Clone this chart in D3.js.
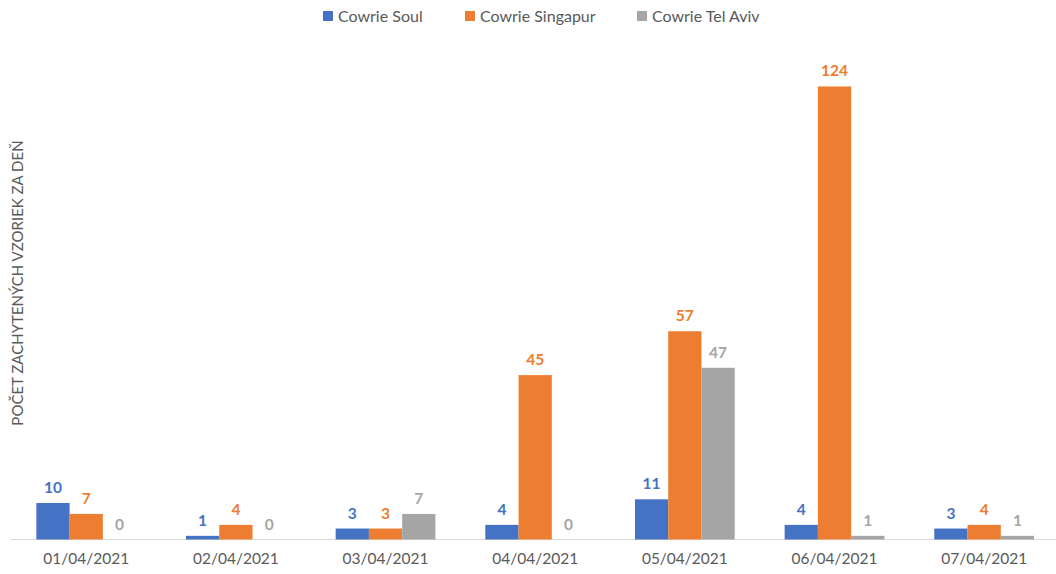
<!DOCTYPE html>
<html><head><meta charset="utf-8">
<script src="https://cdn.jsdelivr.net/npm/d3@7"></script>
<style>body{margin:0;background:#fff;}svg{display:block;font-family:Lato,"Open Sans",sans-serif;}</style>
</head><body><svg id="c" width="1056" height="574"></svg>
<script>
const categories = ["01/04/2021","02/04/2021","03/04/2021","04/04/2021","05/04/2021","06/04/2021","07/04/2021"];
const seriesNames = ["Cowrie Soul","Cowrie Singapur","Cowrie Tel Aviv"];
const soul = [10,1,3,4,11,4,3];
const singapur = [7,4,3,45,57,124,4];
const telAviv = [0,0,7,0,47,1,1];
const colors = ["#4472C4","#ED7D31","#A5A5A5"];
const yLabel = "POČET ZACHYTENÝCH VZORIEK ZA DEŇ";

const values = [soul, singapur, telAviv];
const svg = d3.select("#c");
const x0 = d3.scaleBand().domain(categories).range([11.4, 1059]).paddingInner(0).paddingOuter(0);
const x1 = d3.scaleBand().domain(seriesNames).range([0, x0.bandwidth()]).paddingInner(0).paddingOuter(0.75);
const y = d3.scaleLinear().domain([0,140]).range([539.5, 28]);

// axis line
svg.append("line").attr("x1",11).attr("x2",1056).attr("y1",y(0)).attr("y2",y(0))
  .attr("stroke","#d9d9d9").attr("stroke-width",1);

categories.forEach((c,i)=>{
  const g = svg.append("g").attr("transform",`translate(${x0(c)},0)`);
  seriesNames.forEach((s,j)=>{
    const v = values[j][i];
    g.append("rect").attr("x",x1(s)).attr("width",x1.bandwidth()).attr("y",y(v)).attr("height",y(0)-y(v)).attr("fill",colors[j]);
    g.append("text").attr("x",x1(s)+x1.bandwidth()/2).attr("y",y(v)-10).attr("text-anchor","middle")
      .attr("font-size",15.5).attr("font-weight","bold").attr("fill",colors[j]).text(v);
  });
});

// x labels
const xAxis = svg.append("g").attr("transform",`translate(0,${y(0)})`)
  .call(d3.axisBottom(x0).tickSize(0).tickPadding(13));
xAxis.select(".domain").remove();
xAxis.selectAll("text").attr("font-size",15.5).attr("fill","#595959").attr("font-family","Lato, sans-serif");

// y label
svg.append("text").attr("transform","translate(23,283) rotate(-90)").attr("text-anchor","middle")
  .attr("font-size",15).attr("fill","#595959").text(yLabel);

// legend
const legX = [323, 465, 637];
seriesNames.forEach((s,j)=>{
  svg.append("rect").attr("x",legX[j]).attr("y",11).attr("width",10).attr("height",10).attr("fill",colors[j]);
  svg.append("text").attr("x",legX[j]+15).attr("y",21.5).attr("font-size",16).attr("fill","#595959").text(s);
});
</script></body></html>
